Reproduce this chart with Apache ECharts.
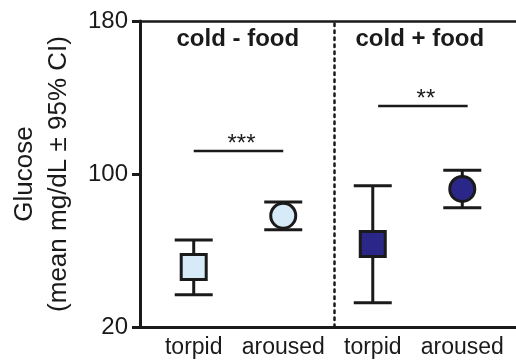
<!DOCTYPE html>
<html>
<head>
<meta charset="utf-8">
<script src="https://cdn.jsdelivr.net/npm/echarts@6/dist/echarts.min.js"></script>
<style>html,body{margin:0;padding:0;background:#fff;}#c{width:516px;height:360px;}</style>
</head>
<body>
<div id="c"></div>
<script>
const categories = ['torpid', 'aroused', 'torpid', 'aroused'];
const groupNames = ['cold - food', 'cold + food'];
const means = [51.4, 78.2, 63.4, 92.2];
const lower = [36.9, 70.9, 32.7, 82.4];
const upper = [65.5, 85.4, 93.9, 101.9];
const yTicks = [20, 100, 180];
const sigStart = [0, 2.06];
const sigEnd = [1, 3.06];
const sigLevel = [112, 135.6];
const sigLabels = ['***', '**'];
const dividerX = 1.57;

const FONT = 'Liberation Sans, Arial, sans-serif';
const INK = '#1a1a1a';
const fills = ['#d6eaf8', '#2a2788'];
const shapes = ['rect', 'circle'];

const xIdx = categories.map((c, i) => i);
const errData = xIdx.map(i => [i, lower[i], upper[i]]);
const markerData = xIdx.map(i => ({
  value: [i, means[i]],
  symbol: shapes[i % 2],
  itemStyle: { color: fills[Math.floor(i / 2)] }
}));
const sigData = sigStart.map((s, i) => [s, sigEnd[i], sigLevel[i], sigLabels[i]]);

const chart = echarts.init(document.getElementById('c'), null, { renderer: 'canvas' });
chart.setOption({
  animation: false,
  backgroundColor: '#fff',
  grid: { left: 135, right: 0, top: 21, bottom: 33, containLabel: false },
  xAxis: [{
    type: 'value', min: -0.6, max: 3.6,
    splitLine: { show: false },
    axisLine: { show: true, onZero: false, lineStyle: { color: INK, width: 3 } },
    axisTick: { show: false },
    axisLabel: {
      customValues: xIdx,
      formatter: v => categories[Math.round(v)] || '',
      fontFamily: FONT, fontSize: 23, color: INK, margin: 9
    }
  }, {
    type: 'value', min: -0.6, max: 3.6, position: 'top',
    splitLine: { show: false },
    axisLine: { show: true, onZero: false, lineStyle: { color: INK, width: 2.5 } },
    axisTick: { show: false }, axisLabel: { show: false }
  }],
  yAxis: [{
    type: 'value', min: 20, max: 180,
    splitLine: { show: false },
    axisLine: { show: true, onZero: false, lineStyle: { color: INK, width: 3 } },
    axisTick: { show: true, customValues: yTicks, length: 8, lineStyle: { color: INK, width: 3 } },
    axisLabel: { customValues: yTicks, fontFamily: FONT, fontSize: 24, color: INK, margin: 12 },
    name: 'Glucose\n(mean mg/dL ± 95% CI)',
    nameLocation: 'middle', nameRotate: 90, nameGap: 64,
    nameTextStyle: { fontFamily: FONT, fontSize: 26, color: INK, lineHeight: 34, align: 'center' }
  }, {
    type: 'value', min: 20, max: 180, position: 'right',
    splitLine: { show: false },
    axisLine: { show: true, onZero: false, lineStyle: { color: '#eeeeee', width: 1 } },
    axisTick: { show: false }, axisLabel: { show: false }
  }],
  graphic: [
    { type: 'text', left: 238.5 - 62, top: 27, style: { text: groupNames[0], font: 'bold 24px ' + FONT, fill: INK } },
    { type: 'text', left: 417.5 - 62, top: 27, style: { text: groupNames[1], font: 'bold 24px ' + FONT, fill: INK } }
  ],
  series: [
    {
      type: 'line', data: [], silent: true,
      markLine: {
        silent: true, symbol: 'none', label: { show: false },
        lineStyle: { color: INK, width: 2.5, type: [2.5, 4.5], cap: 'round' },
        data: [[{ coord: [dividerX, 20] }, { coord: [dividerX, 180] }]]
      }
    },
    {
      type: 'custom', z: 2,
      data: errData,
      renderItem: (params, api) => {
        const x = api.value(0);
        const lo = api.coord([x, api.value(1)]);
        const hi = api.coord([x, api.value(2)]);
        const hw = 19;
        const st = { stroke: INK, lineWidth: 3 };
        return {
          type: 'group', children: [
            { type: 'line', shape: { x1: lo[0], y1: lo[1], x2: hi[0], y2: hi[1] }, style: st },
            { type: 'line', shape: { x1: lo[0] - hw, y1: lo[1], x2: lo[0] + hw, y2: lo[1] }, style: st },
            { type: 'line', shape: { x1: hi[0] - hw, y1: hi[1], x2: hi[0] + hw, y2: hi[1] }, style: st }
          ]
        };
      }
    },
    {
      type: 'scatter', z: 3,
      symbolSize: 25,
      itemStyle: { borderColor: INK, borderWidth: 3, opacity: 1 },
      data: markerData
    },
    {
      type: 'custom', z: 2,
      data: sigData,
      renderItem: (params, api) => {
        const a = api.coord([api.value(0), api.value(2)]);
        const b = api.coord([api.value(1), api.value(2)]);
        return {
          type: 'group', children: [
            { type: 'line', shape: { x1: a[0], y1: a[1], x2: b[0], y2: b[1] }, style: { stroke: INK, lineWidth: 2.5 } },
            { type: 'text', x: (a[0] + b[0]) / 2 + 3, y: a[1] - 7,
              style: { text: sigLabels[params.dataIndex], font: '24px ' + FONT, fill: INK, align: 'center', verticalAlign: 'middle' } }
          ]
        };
      }
    }
  ]
});
</script>
</body>
</html>
